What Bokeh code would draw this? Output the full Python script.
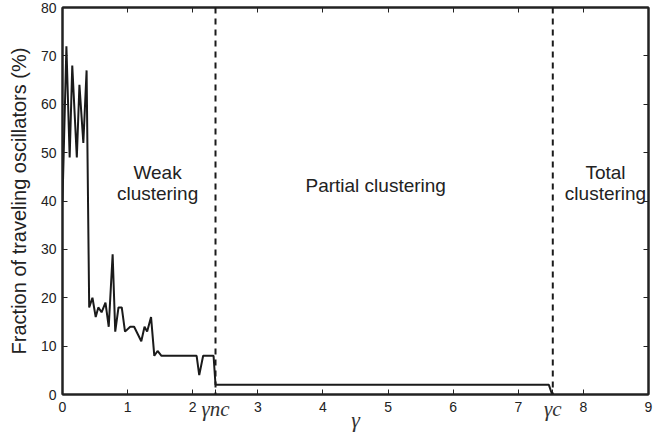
from bokeh.plotting import figure
from bokeh.models import LinearAxis, FixedTicker, Span, Label, Range1d
from bokeh.embed import file_html
from bokeh.resources import INLINE

# data
gamma = [0, 0.06, 0.11, 0.15, 0.22, 0.26, 0.32, 0.37, 0.41, 0.46, 0.51, 0.55, 0.60,
         0.66, 0.71, 0.77, 0.81, 0.86, 0.91, 0.96, 1.04, 1.10, 1.21, 1.26, 1.30,
         1.36, 1.41, 1.46, 1.52, 2.06, 2.10, 2.16, 2.32, 2.35, 7.47, 7.52]
fraction = [40, 72, 49, 68, 49, 64, 52, 67, 18, 20, 16, 18, 17,
            19, 14, 29, 13, 18, 18, 13, 14, 14, 11, 14, 13,
            16, 8, 9, 8, 8, 4, 8, 8, 2, 2, 0]
gamma_nc = 2.35
gamma_c = 7.53
x_ticks = [0, 1, 2, gamma_nc, 3, 4, 5, 6, 7, gamma_c, 8, 9]
x_labels = ["0", "1", "2", "", "3", "4", "5", "6", "7", "", "8", "9"]
gamma_ticks = [gamma_nc, gamma_c]
gamma_labels = ["γnc", "γc"]
top_ticks = [1, 2, 3, 4, 5, 6, 7, 8]
y_ticks = [0, 10, 20, 30, 40, 50, 60, 70, 80]
right_ticks = [10, 20, 30, 40, 50, 60, 70]
regions = [("Weak", 1.46, 45.8), ("clustering", 1.46, 41.6),
           ("Partial clustering", 4.81, 43.3),
           ("Total", 8.34, 45.8), ("clustering", 8.34, 41.6)]

SANS = "Liberation Sans"
SERIF = "Liberation Serif"
INK = "#222222"

p = figure(width=660, height=434, output_backend="svg", toolbar_location=None,
           x_range=Range1d(0, 9), y_range=Range1d(0, 80),
           min_border_left=62, min_border_right=12, min_border_top=7,
           min_border_bottom=39)
p.background_fill_color = "white"
p.border_fill_color = "white"
p.xgrid.visible = False
p.ygrid.visible = False
p.outline_line_color = INK
p.outline_line_width = 2

for ax in (p.xaxis[0], p.yaxis[0]):
    ax.axis_line_width = 2
    ax.axis_line_color = INK
    ax.major_tick_in = 5
    ax.major_tick_out = 0
    ax.minor_tick_line_color = None
    ax.major_tick_line_width = 1
    ax.major_tick_line_color = INK
    ax.major_label_text_font = SANS
    ax.major_label_text_font_size = "14px"
    ax.major_label_text_color = INK

p.xaxis[0].ticker = FixedTicker(ticks=x_ticks)
p.xaxis[0].major_label_overrides = dict(zip(x_ticks, x_labels))
p.xaxis[0].major_label_standoff = 7
p.yaxis[0].ticker = FixedTicker(ticks=y_ticks)
p.yaxis[0].major_label_standoff = 6
p.yaxis[0].axis_label = "Fraction of traveling oscillators (%)"
p.yaxis[0].axis_label_text_font = SANS
p.yaxis[0].axis_label_text_font_style = "normal"
p.yaxis[0].axis_label_text_font_size = "20px"
p.yaxis[0].axis_label_text_color = INK
p.yaxis[0].axis_label_standoff = 8

# second bottom axis carrying the gamma_nc / gamma_c labels and the axis title
gax = LinearAxis(ticker=FixedTicker(ticks=gamma_ticks),
                 major_label_overrides=dict(zip(gamma_ticks, gamma_labels)),
                 major_label_text_font=SERIF, major_label_text_font_style="italic",
                 major_label_text_font_size="21px", major_label_text_color="#333333",
                 major_label_standoff=-24,
                 axis_line_color=None, major_tick_line_color=None,
                 minor_tick_line_color=None,
                 axis_label="γ", axis_label_text_font=SERIF,
                 axis_label_text_font_style="italic", axis_label_text_font_size="22px",
                 axis_label_text_color="#333333", axis_label_standoff=-17)
p.add_layout(gax, "below")

top = LinearAxis(ticker=FixedTicker(ticks=top_ticks),
                 major_label_overrides={t: "" for t in top_ticks},
                 major_label_text_font_size="1px",
                 major_tick_in=5, major_tick_out=0, minor_tick_line_color=None,
                 axis_line_width=2, axis_line_color=INK,
                 major_label_standoff=0, major_tick_line_color=INK)
right = LinearAxis(ticker=FixedTicker(ticks=right_ticks),
                   major_label_overrides={t: "" for t in right_ticks},
                   major_label_text_font_size="1px",
                   major_tick_in=5, major_tick_out=0, minor_tick_line_color=None,
                   axis_line_width=2, axis_line_color=INK,
                   major_label_standoff=0, major_tick_line_color=INK)
p.add_layout(top, "above")
p.add_layout(right, "right")

p.line(gamma, fraction, line_color="#1a1a1a", line_width=2)

for loc in (gamma_nc, gamma_c):
    p.add_layout(Span(location=loc, dimension="height", line_color="#1a1a1a",
                      line_width=2, line_dash="6 5"))

for txt, x, y in regions:
    p.add_layout(Label(x=x, y=y, text=txt, text_align="center", text_baseline="alphabetic",
                       text_font=SANS, text_font_size="19px", text_color=INK))

open("out.html", "w").write(file_html(p, INLINE))
